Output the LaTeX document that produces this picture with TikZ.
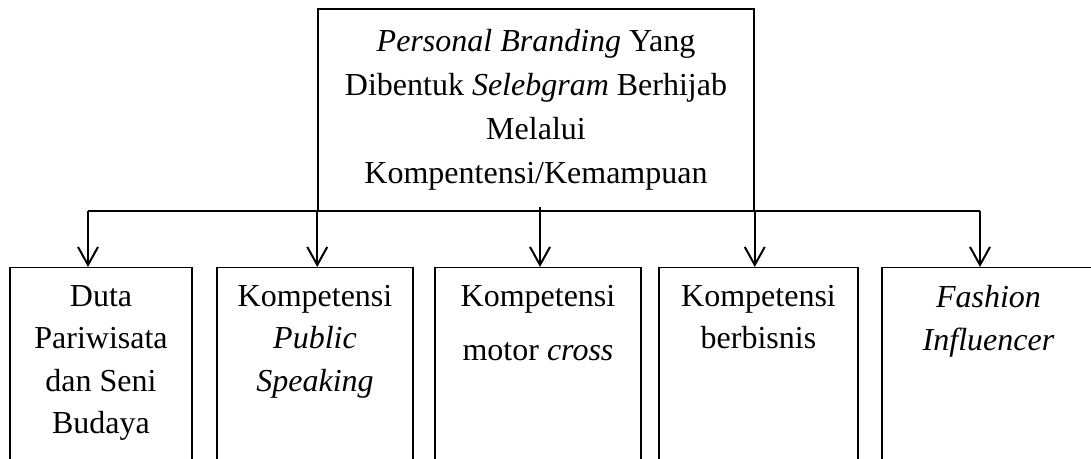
\documentclass[tikz,border=0pt]{standalone}
\usepackage{fontspec}
\setmainfont{Liberation Serif}
\usetikzlibrary{arrows.meta}
\begin{document}
\begin{tikzpicture}[x=0.5pt, y=-0.5pt,
  box/.style={draw, line width=0.6pt, inner sep=0pt},
  lbl/.style={align=center, inner sep=0pt, anchor=north, font=\fontsize{16pt}{21.2pt}\selectfont},
  arr/.style={-{Straight Barb[length=9pt, width=10pt]}, line width=1pt}]
\useasboundingbox (0,0) rectangle (1091,459);
\clip (0,0) rectangle (1091,459);
\node[box, line width=0.75pt, minimum width=218pt, minimum height=101pt, align=center, font=\fontsize{16pt}{21.9pt}\selectfont] (top) at (536,110)
    {\textit{Personal Branding} Yang\\ Dibentuk \textit{Selebgram} Berhijab\\ Melalui\\ Kompentensi/Kemampuan};
% lower boxes run past the bottom edge
\foreach \n/\cx/\w/\txt in {1/101/91/{Duta\\ Pariwisata\\ dan Seni\\ Budaya}, 2/315/98/{Kompetensi\\ \textit{Public}\\ \textit{Speaking}}, 3/538/103/{Kompetensi\\[6pt] motor \textit{cross}}, 4/758.5/99.5/{Kompetensi\\ berbisnis}, 5/988.5/106.5/{\textit{Fashion}\\ \textit{Influencer}}}
{
    \node[box, anchor=north, minimum width=\w pt, minimum height=104pt] (b\n) at (\cx,267) {};
    \node[lbl] (t\n) at ([yshift=-9pt]b\n.north) {\txt};
}
\coordinate (kiri) at (88,211);
\coordinate (kanan) at (980,211);
\coordinate (tengah) at (540,207);
\draw[line width=1pt] (kiri) -- (kanan);
\draw[arr] (kiri) -- (kiri |- b1.north);
\draw[arr] (top.south west) -- (top.south west |- b2.north);
\draw[arr] (tengah) -- (tengah |- b3.north);
\draw[arr] (top.south east) -- (top.south east |- b4.north);
\draw[arr] (kanan) -- (kanan |- b5.north);
\end{tikzpicture}
\end{document}
